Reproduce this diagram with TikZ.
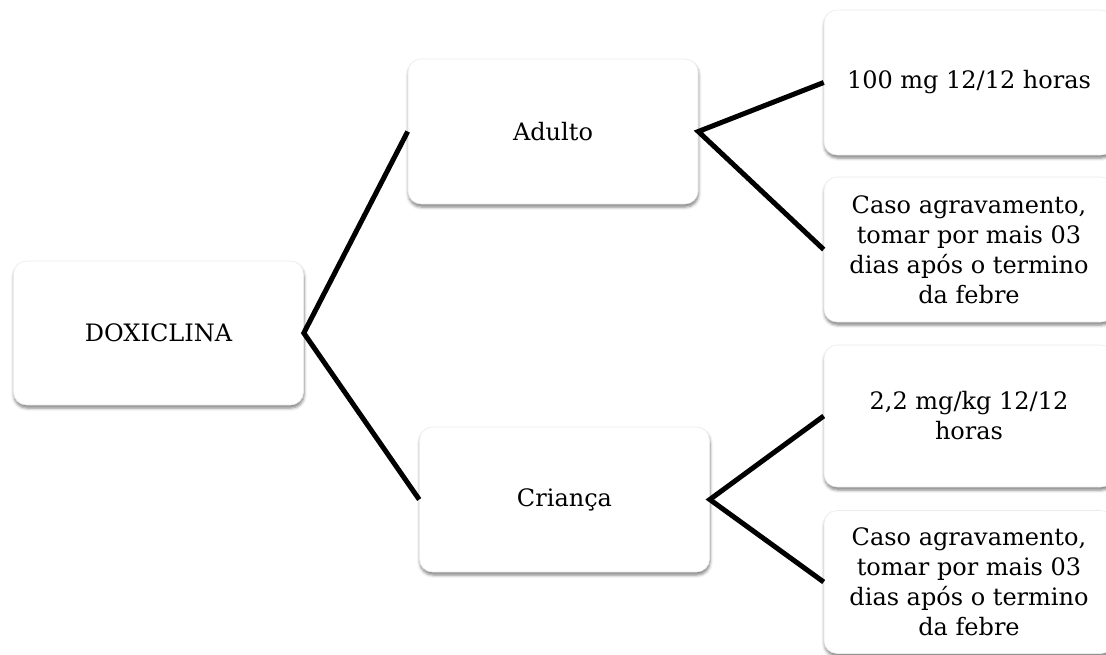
\documentclass[tikz,border=0pt]{standalone}
\usepackage{fontspec}
\setmainfont{DejaVu Serif}
\usetikzlibrary{shadows.blur}
\tikzset{
  card/.style={rectangle, rounded corners=13pt, draw=black!8, line width=0.6pt, fill=white,
    blur shadow={shadow xshift=0.5pt, shadow yshift=-3pt, shadow blur radius=3pt, shadow opacity=50},
    minimum width=290pt, minimum height=145pt, inner sep=0pt, align=center,
    font=\fontsize{24pt}{30pt}\selectfont},
  link/.style={line width=5pt, black, line join=miter}
}
\begin{document}
\begin{tikzpicture}[x=1pt,y=-1pt]
\useasboundingbox (0,0) rectangle (1106,654);
\clip (0,0) rectangle (1106,654);
\node[card, minimum height=144pt] (doxi) at (158.5,333) {DOXICLINA};
\node[card] (adulto) at (553,131.5) {Adulto};
\node[card] (crianca) at (564.5,499.5) {Criança};
\node[card] (r1) at (969,82.5) {100 mg 12/12 horas};
\node[card] (r2) at (969,249.5) {Caso agravamento,\\tomar por mais 03\\dias após o termino\\da febre};
\node[card, minimum height=142pt] (r3) at (969,416) {2,2 mg/kg 12/12\\horas};
\node[card, minimum height=143pt] (r4) at (969,582) {Caso agravamento,\\tomar por mais 03\\dias após o termino\\da febre};
\draw[link] (adulto.west) -- (doxi.east) -- (crianca.west);
\draw[link] (r1.west) -- (adulto.east) -- (r2.west);
\draw[link] (r3.west) -- (crianca.east) -- (r4.west);
\end{tikzpicture}
\end{document}
